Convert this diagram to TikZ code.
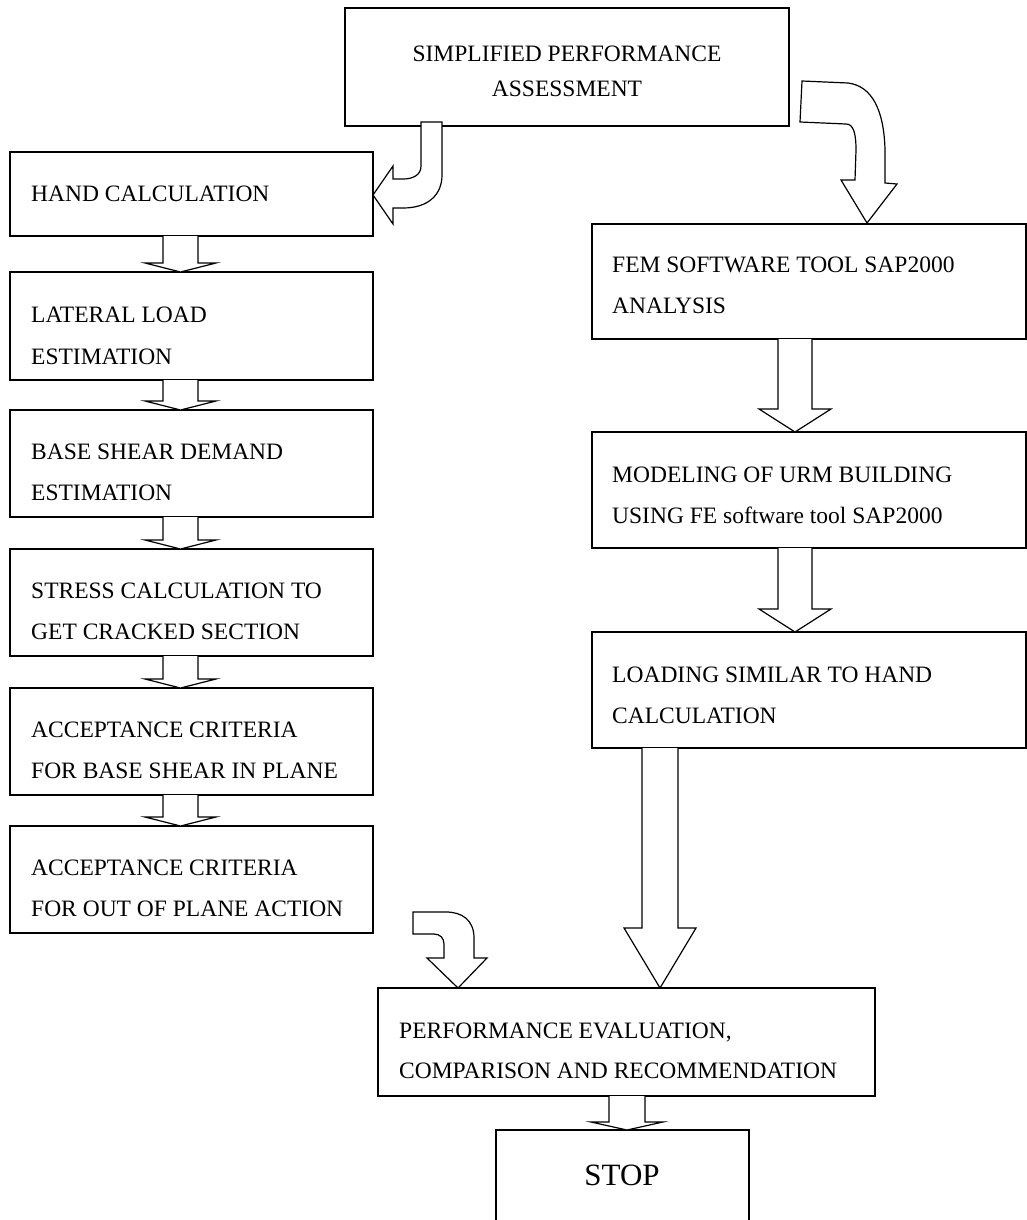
\documentclass[tikz,border=0pt]{standalone}
\usepackage{fontspec}
\setmainfont{Liberation Serif}
\usetikzlibrary{calc}
\tikzset{
  box/.style={draw, line width=1.2pt, rectangle, inner sep=0pt, outer sep=0pt},
  lbl/.style={anchor=base west, inner sep=0pt, font=\fontsize{23.5}{28}\selectfont},
  arr/.style={draw, line width=1.2pt, line join=miter, fill=white},
}
% \mkbox{name}{x1}{y1}{x2}{y2}  (pixel units, y down)
\newcommand\mkbox[5]{%
  \node[box, minimum width={(#4-#2)*1pt}, minimum height={(#5-#3)*1pt}] (#1) at ({(#2+#4)/2},{(#3+#5)/2}) {};}
% \barrow{from}{to}{centre x}{shaft half}{head half}{head len}
\newcommand\barrow[6]{%
  \draw[arr] let \p1=(#1.south), \p2=(#2.north) in
    ({(#3-#4)*1pt},\y1) -- ({(#3-#4)*1pt},{\y2+#6*1pt}) -- ({(#3-#5)*1pt},{\y2+#6*1pt})
    -- ({#3*1pt},\y2) -- ({(#3+#5)*1pt},{\y2+#6*1pt}) -- ({(#3+#4)*1pt},{\y2+#6*1pt})
    -- ({(#3+#4)*1pt},\y1);}
\begin{document}
\begin{tikzpicture}[x=1pt,y=-1pt]
\useasboundingbox (0,0) rectangle (1027,1220);
% top box
\mkbox{simp}{345}{8}{789}{126}
\node[anchor=base, inner sep=0pt, font=\fontsize{23.5}{28}\selectfont] (simpA) at (567,62) {SIMPLIFIED PERFORMANCE};
\node[anchor=base, inner sep=0pt, font=\fontsize{23.5}{28}\selectfont] (simpB) at (567,97) {ASSESSMENT};
% left column
\mkbox{hand}{10}{152}{373}{236}
\node[lbl] (handA) at (31,201) {HAND CALCULATION};
\mkbox{lat}{10}{272}{373}{380}
\node[lbl] (latA) at (31,322) {LATERAL LOAD};
\node[lbl] (latB) at (31,364) {ESTIMATION};
\mkbox{base}{10}{410}{373}{517}
\node[lbl] (baseA) at (31,459) {BASE SHEAR DEMAND};
\node[lbl] (baseB) at (31,500) {ESTIMATION};
\mkbox{stress}{10}{549}{373}{656}
\node[lbl] (stressA) at (31,598) {STRESS CALCULATION TO};
\node[lbl] (stressB) at (31,639) {GET CRACKED SECTION};
\mkbox{accA}{10}{688}{373}{795}
\node[lbl] (accAa) at (31,737) {ACCEPTANCE CRITERIA};
\node[lbl] (accAb) at (31,778) {FOR BASE SHEAR IN PLANE};
\mkbox{accB}{10}{826}{373}{933}
\node[lbl] (accBa) at (31,875) {ACCEPTANCE CRITERIA};
\node[lbl] (accBb) at (31,916) {FOR OUT OF PLANE ACTION};
% right column
\mkbox{fem}{592}{224}{1026}{339}
\node[lbl] (femA) at (612,272) {FEM SOFTWARE TOOL SAP2000};
\node[lbl] (femB) at (612,313) {ANALYSIS};
\mkbox{mod}{592}{432}{1026}{548}
\node[lbl] (modA) at (612,482) {MODELING OF URM BUILDING};
\node[lbl] (modB) at (612,523) {USING FE software tool SAP2000};
\mkbox{load}{592}{632}{1026}{748}
\node[lbl] (loadA) at (612,682) {LOADING SIMILAR TO HAND};
\node[lbl] (loadB) at (612,723) {CALCULATION};
% bottom
\mkbox{perf}{378}{988}{875}{1096}
\node[lbl] (perfA) at (399,1038) {PERFORMANCE EVALUATION,};
\node[lbl] (perfB) at (399,1078) {COMPARISON AND RECOMMENDATION};
\mkbox{stop}{496}{1130}{749}{1260}
\node[anchor=base, inner sep=0pt, font=\fontsize{31}{37}\selectfont] (stopA) at (622,1185) {STOP};
% straight block arrows
\barrow{hand}{lat}{180.5}{17.5}{35.5}{9}
\barrow{lat}{base}{180.5}{17.5}{35.5}{9}
\barrow{base}{stress}{180.5}{17.5}{35.5}{9}
\barrow{stress}{accA}{180.5}{17.5}{35.5}{9}
\barrow{accA}{accB}{180.5}{17.5}{35.5}{9}
\barrow{fem}{mod}{795}{17}{36}{23}
\barrow{mod}{load}{795}{17}{36}{23}
\barrow{load}{perf}{660}{18}{36}{60}
\barrow{perf}{stop}{627}{18}{36}{8}
% curved arrow: top box -> hand calculation
\draw[arr] (421,122) -- (421,166) .. controls (421,175) and (413,179) .. (403,179)
  -- (393,179) -- (393,166) -- (373,195) -- (393,224) -- (393,208) -- (403,208)
  .. controls (428,208) and (442,195) .. (442,175) -- (442,122) -- cycle;
% curved arrow: top box -> FEM
\draw[arr] (802,81) -- (848,83) .. controls (872,86) and (884,110) .. (885,150)
  -- (885,183) -- (897,184) -- (867,223) -- (841,180) -- (855,180) -- (856,150)
  .. controls (856,132) and (853,124) .. (846,124) -- (800,122) -- cycle;
% curved arrow: acceptance -> performance
\draw[arr] (413,912) -- (446,912) .. controls (462,912) and (474,920) .. (474,938)
  -- (474,958) -- (487,958) -- (458,988) -- (427,958) -- (444,958) -- (444,944)
  .. controls (444,938) and (440,934) .. (434,934) -- (413,934) -- cycle;
\end{tikzpicture}
\end{document}
